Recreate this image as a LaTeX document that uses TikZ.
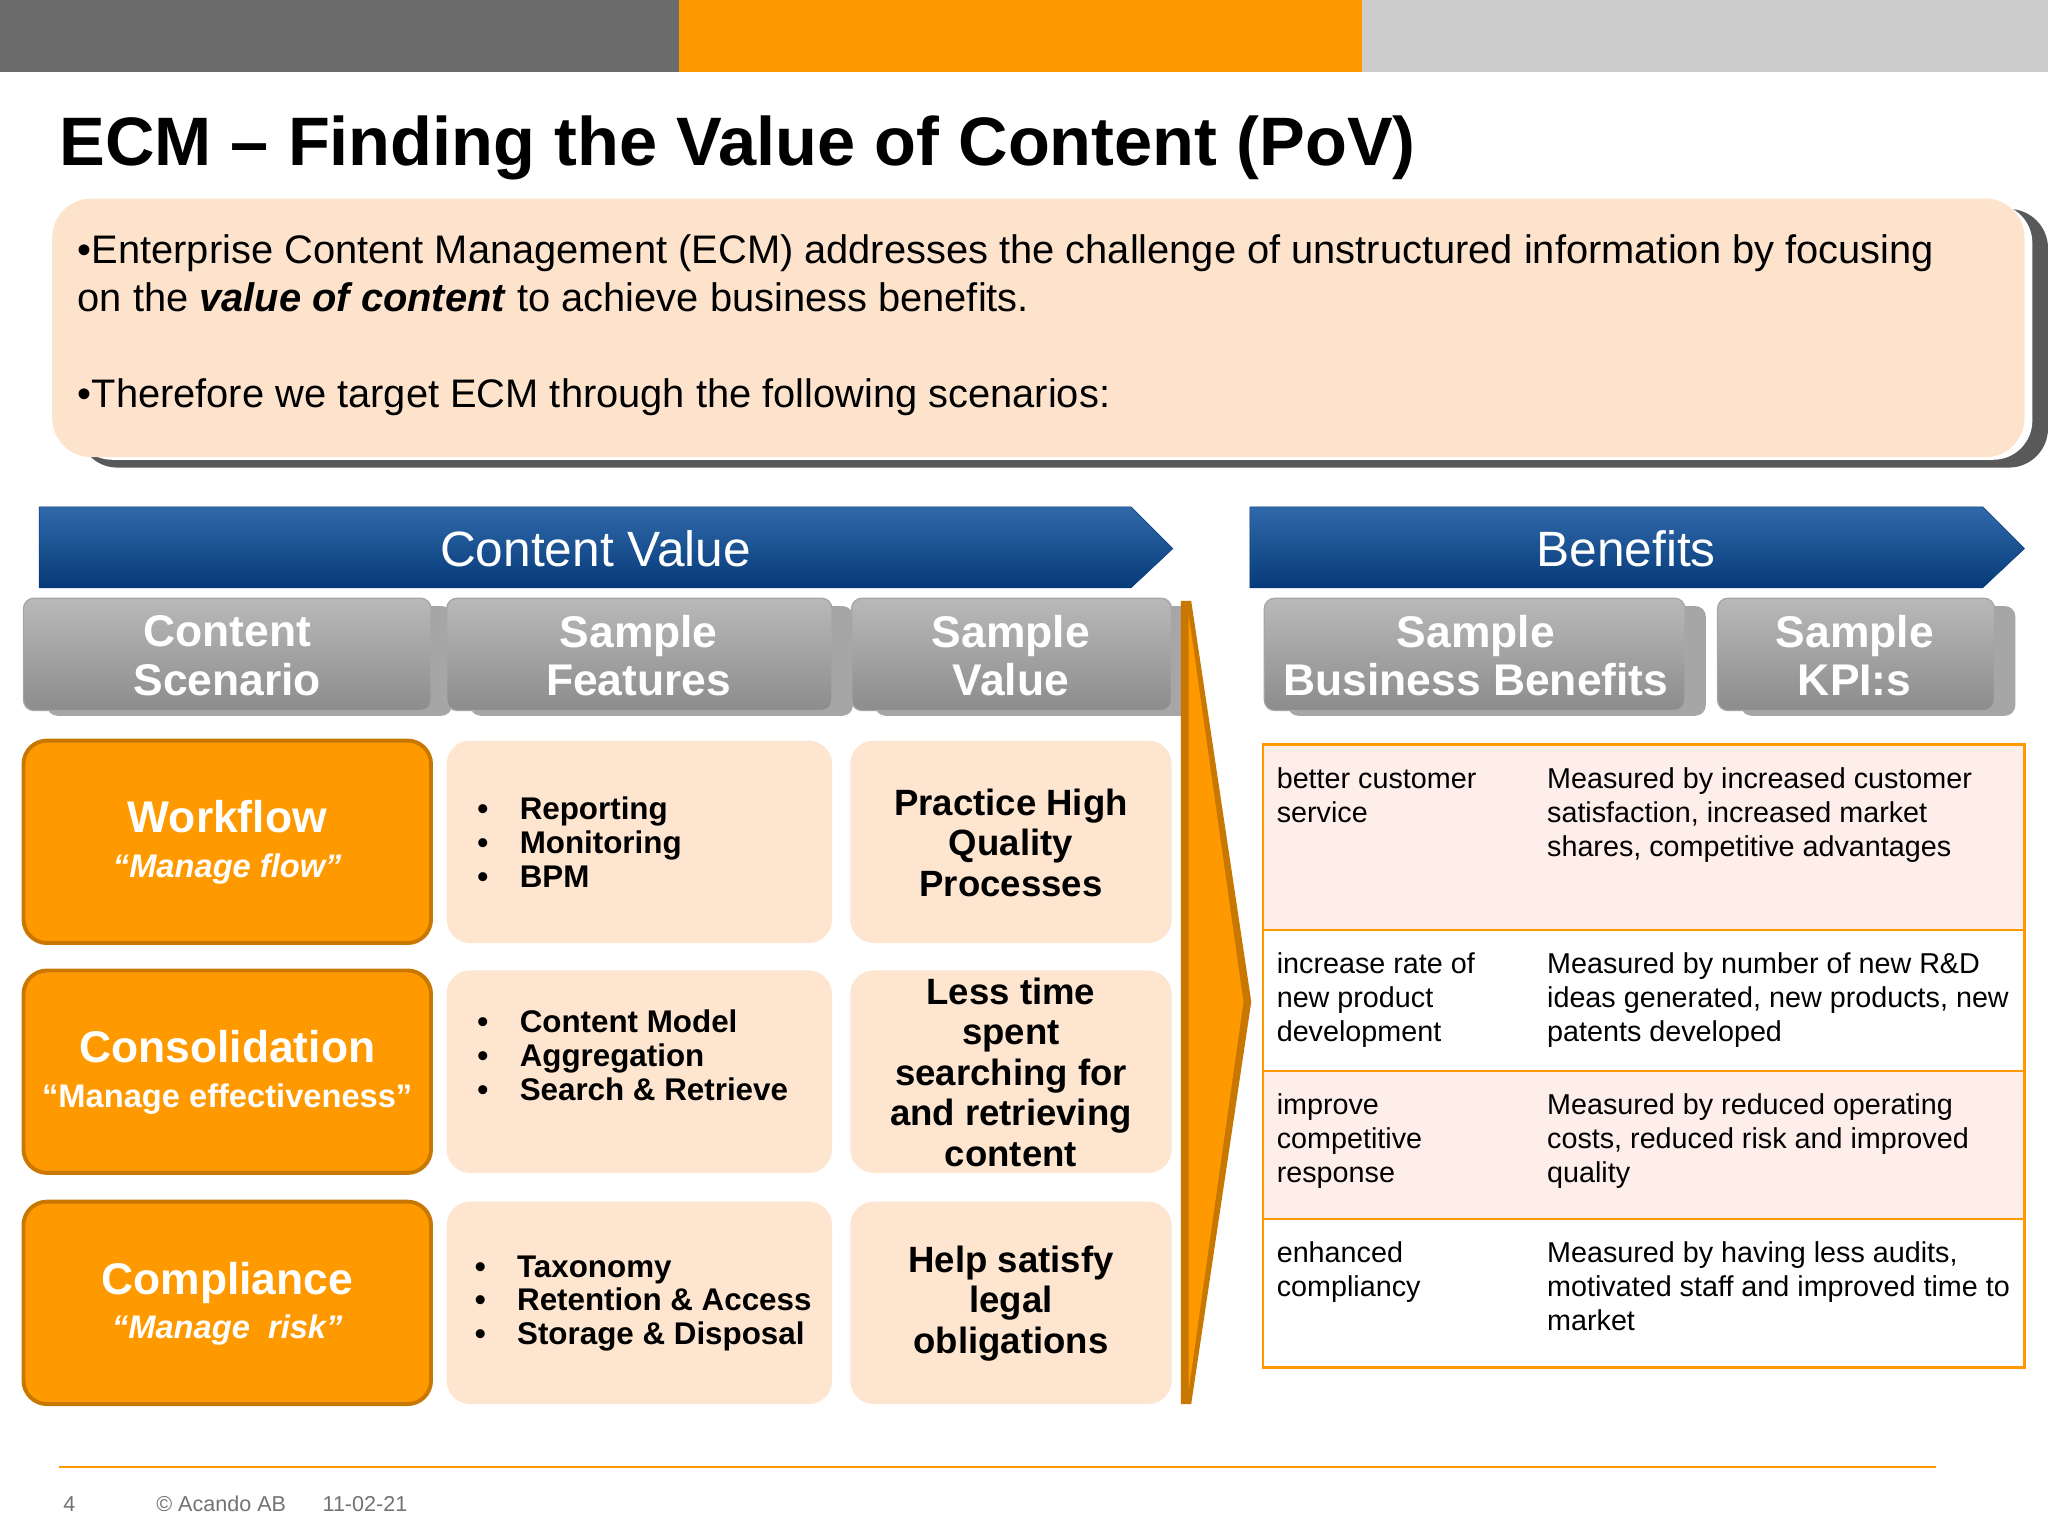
\documentclass[tikz,border=0pt]{standalone}
\usepackage{fontspec}
\setmainfont{Liberation Sans}
\definecolor{org}{HTML}{FF9900}
\definecolor{orgd}{HTML}{C87800}
\definecolor{peach}{HTML}{FDE3CC}
\definecolor{peach2}{HTML}{FDE5CF}
\definecolor{blu}{HTML}{0B4F9C}
\definecolor{blud}{HTML}{063A78}
\definecolor{pink}{HTML}{FDEEE9}
\tikzset{x=1pt,y=-1pt,
 hdr/.style={rounded corners=8pt,top color=gray!55,bottom color=gray!90,draw=gray!70,line width=1pt},
 hdrtxt/.style={text=white,font=\bfseries\fontsize{34}{37}\selectfont,align=center},
 obox/.style={rounded corners=18pt,fill=org,draw=orgd,line width=3pt},
 pbox/.style={rounded corners=18pt,fill=peach2},
 otxt/.style={text=white,align=center,font=\bfseries\fontsize{25}{34}\selectfont},
 ptxt/.style={font=\bfseries\fontsize{24}{26}\selectfont,align=left,anchor=west},
 vtxt/.style={font=\bfseries\fontsize{28}{31}\selectfont,align=center},
 ttxt/.style={font=\fontsize{22}{26}\selectfont,align=left,anchor=north west},
}
\begin{document}
\begin{tikzpicture}
\useasboundingbox (0,0) rectangle (1568,1176);
\fill[white] (0,0) rectangle (1568,1176);
\fill[black!58] (0,0) rectangle (520,55);
\fill[org] (520,0) rectangle (1043,55);
\fill[black!20] (1043,0) rectangle (1568,55);
\node[anchor=west,font=\bfseries\fontsize{52.5}{56}\selectfont] (title) at (42,113) {ECM – Finding the Value of Content (PoV)};
% intro box
\fill[black!65,rounded corners=30pt] (60,160) rectangle (1568,358);
\fill[white,rounded corners=30pt] (56,156) rectangle (1556,352);
\fill[peach,rounded corners=30pt] (40,152) rectangle (1550,350);
\node[anchor=north west,align=left,font=\fontsize{30.5}{37}\selectfont] (intro) at (56,176)
{•Enterprise Content Management (ECM) addresses the challenge of unstructured information by focusing\\
on the \textbf{\textit{value of content}} to achieve business benefits.\\[36pt]
•Therefore we target ECM through the following scenarios:};
% blue arrows
\shade[top color=blu!85,bottom color=blud,draw=blud] (30,388) -- (866,388) -- (898,420) -- (866,450) -- (30,450) -- cycle;
\node[text=white,font=\fontsize{38}{40}\selectfont] (cv) at (456,420) {Content Value};
\shade[top color=blu!85,bottom color=blud,draw=blud] (957,388) -- (1518,388) -- (1550,420) -- (1518,450) -- (957,450) -- cycle;
\node[text=white,font=\fontsize{38}{40}\selectfont] (bn) at (1245,420) {Benefits};
% headers
\foreach \a/\b in {18/330,342/637,652/897,968/1290,1315/1527}{
 \fill[black!35,rounded corners=8pt] (\a+18,464) rectangle (\b+16,548);
 \draw[hdr] (\a,458) rectangle (\b,544);}
\node[hdrtxt] (t1) at (174,502) {Content\\Scenario};
\node[hdrtxt] (t2) at (489,502) {Sample\\Features};
\node[hdrtxt] (t3) at (774,502) {Sample\\Value};
\node[hdrtxt] (t4) at (1130,502) {Sample\\Business Benefits};
\node[hdrtxt] (t5) at (1420,502) {Sample\\KPI:s};
% rows
\foreach \t in {567,743,920}{
 \draw[obox] (18,\t) rectangle (330,\t+155);
 \fill[pbox] (342,\t) rectangle (637,\t+155);
 \fill[pbox] (651,\t) rectangle (897,\t+155);}
\node[otxt] (s1) at (174,645) {{\fontsize{34}{38}\selectfont Workflow}\\{\itshape “Manage flow”}};
\node[otxt] (s2) at (174,821) {{\fontsize{34}{38}\selectfont Consolidation}\\“Manage effectiveness”};
\node[otxt] (s3) at (174,998) {{\fontsize{34}{38}\selectfont Compliance}\\{\itshape “Manage\ \ risk”}};
\node[ptxt] (f1) at (362,645) {•\quad Reporting\\•\quad Monitoring\\•\quad BPM};
\node[ptxt] (f2) at (362,808) {•\quad Content Model\\•\quad Aggregation\\•\quad Search \& Retrieve};
\node[ptxt] (f3) at (360,998) {•\quad Taxonomy\\•\quad Retention \& Access\\•\quad Storage \& Disposal};
\node[vtxt] (v1) at (774,645) {Practice High\\Quality\\Processes};
\node[vtxt] (v2) at (774,821) {Less time\\spent\\searching for\\and retrieving\\content};
\node[vtxt] (v3) at (774,998) {Help satisfy\\legal\\obligations};
% chevron
\fill[orgd] (904,460) -- (912,460) -- (958,767) -- (912,1075) -- (904,1075) -- cycle;
\fill[org] (910,470) -- (952,767) -- (910,1065) -- cycle;
% table
\fill[pink] (967,570) rectangle (1550,712);
\fill[pink] (967,820) rectangle (1550,933);
\draw[org,line width=2pt] (967,570) rectangle (1550,1047);
\foreach \y in {712,820,933} \draw[org,line width=1.5pt] (967,\y) -- (1550,\y);
\node[ttxt] (b1) at (974,584) {better customer\\service};
\node[ttxt] (k1) at (1181,584) {Measured by increased customer\\satisfaction, increased market\\shares, competitive advantages};
\node[ttxt] (b2) at (974,726) {increase rate of\\new product\\development};
\node[ttxt] (k2) at (1181,726) {Measured by number of new R\&D\\ideas generated, new products, new\\patents developed};
\node[ttxt] (b3) at (974,834) {improve\\competitive\\response};
\node[ttxt] (k3) at (1181,834) {Measured by reduced operating\\costs, reduced risk and improved\\quality};
\node[ttxt] (b4) at (974,947) {enhanced\\compliancy};
\node[ttxt] (k4) at (1181,947) {Measured by having less audits,\\motivated staff and improved time to\\market};
% footer
\draw[org,line width=1.2pt] (45,1123) -- (1482,1123);
\node[anchor=west,text=black!55,font=\fontsize{16.5}{18}\selectfont] (ft) at (45,1151) {4\hspace{62pt}© Acando AB\hspace{28pt}11-02-21};
\end{tikzpicture}
\end{document}
